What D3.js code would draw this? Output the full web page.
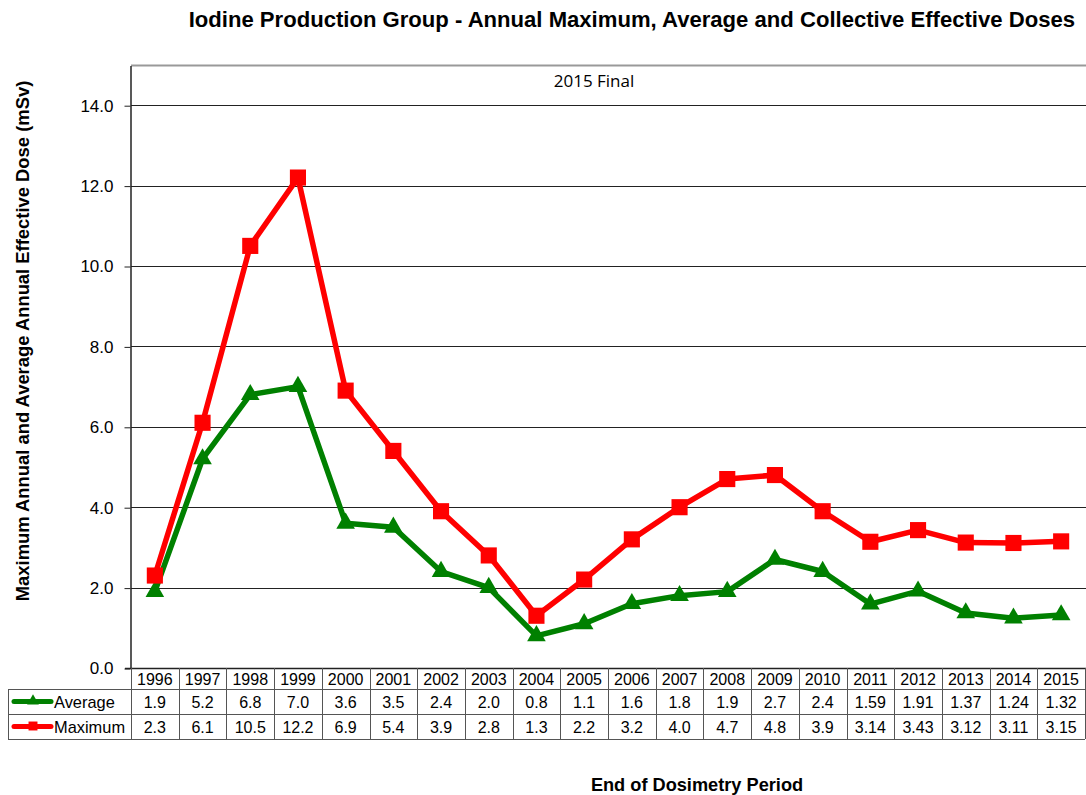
<!DOCTYPE html>
<html>
<head>
<meta charset="utf-8">
<script src="https://cdn.jsdelivr.net/npm/d3@7"></script>
<style>
  body { margin: 0; background: #fff; }
  text { font-family: "Liberation Sans", Arial, sans-serif; fill: #000; }
</style>
</head>
<body>
<div id="chart"></div>
<script>
const years = ["1996", "1997", "1998", "1999", "2000", "2001", "2002", "2003", "2004", "2005",
  "2006", "2007", "2008", "2009", "2010", "2011", "2012", "2013", "2014", "2015"];
const averageDose = [1.9, 5.2, 6.8, 7.0, 3.6, 3.5, 2.4, 2.0, 0.8, 1.1,
  1.6, 1.8, 1.9, 2.7, 2.4, 1.59, 1.91, 1.37, 1.24, 1.32];
const maximumDose = [2.3, 6.1, 10.5, 12.2, 6.9, 5.4, 3.9, 2.8, 1.3, 2.2,
  3.2, 4.0, 4.7, 4.8, 3.9, 3.14, 3.43, 3.12, 3.11, 3.15];
const averageLabels = ["1.9", "5.2", "6.8", "7.0", "3.6", "3.5", "2.4", "2.0", "0.8", "1.1",
  "1.6", "1.8", "1.9", "2.7", "2.4", "1.59", "1.91", "1.37", "1.24", "1.32"];
const maximumLabels = ["2.3", "6.1", "10.5", "12.2", "6.9", "5.4", "3.9", "2.8", "1.3", "2.2",
  "3.2", "4.0", "4.7", "4.8", "3.9", "3.14", "3.43", "3.12", "3.11", "3.15"];
const yTicks = [0, 2, 4, 6, 8, 10, 12, 14];

const series = [
  { name: "Average", values: averageDose, labels: averageLabels, color: "#008000", marker: "triangle" },
  { name: "Maximum", values: maximumDose, labels: maximumLabels, color: "#ff0000", marker: "square" }
];

const width = 1086, height = 795;
const plotLeft = 131, plotRight = 1085, plotTop = 65, plotBottom = 668;
const rowH = [21, 25, 25];

const svg = d3.select("#chart").append("svg")
  .attr("width", width)
  .attr("height", height);

const x = d3.scaleBand().domain(years).range([plotLeft, plotRight]);
const y = d3.scaleLinear().domain([0, 15]).range([plotBottom, plotTop]);

// title
svg.append("text")
  .attr("x", 1075).attr("y", 27)
  .attr("text-anchor", "end")
  .attr("font-size", 22.1).attr("font-weight", "bold")
  .text("Iodine Production Group - Annual Maximum, Average and Collective Effective Doses");

// grid
svg.append("g").selectAll("line")
  .data(yTicks.filter(d => d > 0))
  .join("line")
  .attr("x1", plotLeft).attr("x2", width)
  .attr("y1", d => Math.round(y(d)) + 0.5).attr("y2", d => Math.round(y(d)) + 0.5)
  .attr("stroke", "#222").attr("stroke-width", 1);

svg.append("line")
  .attr("x1", plotLeft).attr("x2", width)
  .attr("y1", plotTop + 0.5).attr("y2", plotTop + 0.5)
  .attr("stroke", "#999").attr("stroke-width", 2);

// y axis
const yAxis = svg.append("g")
  .attr("transform", `translate(${plotLeft - 0.5},0.5)`)
  .call(d3.axisLeft(y).tickValues(yTicks).tickFormat(d3.format(".1f")).tickSize(6).tickSizeOuter(0));
yAxis.select(".domain").attr("stroke", "#222").attr("stroke-width", 1.5);
yAxis.selectAll(".tick line").attr("stroke", "#222");
yAxis.selectAll(".tick text")
  .attr("x", -17)
  .attr("font-size", 17)
  .attr("font-family", "Liberation Sans, Arial, sans-serif")
  .attr("fill", "#000");

svg.append("line")
  .attr("x1", plotLeft - 6).attr("x2", width)
  .attr("y1", plotBottom + 0.5).attr("y2", plotBottom + 0.5)
  .attr("stroke", "#222").attr("stroke-width", 1.5);

svg.append("text")
  .attr("x", 594).attr("y", 87)
  .attr("text-anchor", "middle")
  .attr("font-size", 17)
  .style("font-family", "'Open Sans', sans-serif")
  .text("2015 Final");

// axis titles
svg.append("text")
  .attr("transform", `translate(29,341) rotate(-90)`)
  .attr("text-anchor", "middle")
  .attr("font-size", 18.4).attr("font-weight", "bold")
  .text("Maximum Annual and Average Annual Effective Dose (mSv)");

svg.append("text")
  .attr("x", 697).attr("y", 791)
  .attr("text-anchor", "middle")
  .attr("font-size", 18.2).attr("font-weight", "bold")
  .text("End of Dosimetry Period");

// lines and markers
const line = d3.line()
  .x((d, i) => x(years[i]) + x.bandwidth() / 2)
  .y(d => y(d));

const sym = {
  triangle: d3.symbol().type(d3.symbolTriangle).size(150),
  square: d3.symbol().type(d3.symbolSquare).size(260)
};

series.forEach(s => {
  const g = svg.append("g");
  g.append("path")
    .datum(s.values)
    .attr("d", line)
    .attr("fill", "none")
    .attr("stroke", s.color)
    .attr("stroke-width", 5.5)
    .attr("stroke-linejoin", "round");
  g.selectAll("path.m")
    .data(s.values)
    .join("path")
    .attr("class", "m")
    .attr("transform", (d, i) => `translate(${x(years[i]) + x.bandwidth() / 2},${y(d)})`)
    .attr("d", sym[s.marker]())
    .attr("fill", s.color);
});

// data table
const table = svg.append("g");
const rowTop = [plotBottom, plotBottom + rowH[0], plotBottom + rowH[0] + rowH[1]];
const tableBottom = plotBottom + rowH[0] + rowH[1] + rowH[2];
const border = "#555";

// horizontal lines
[rowTop[1], rowTop[2], tableBottom].forEach(yy => {
  table.append("line")
    .attr("x1", 8).attr("x2", plotRight)
    .attr("y1", yy + 0.5).attr("y2", yy + 0.5)
    .attr("stroke", border);
});
table.append("line")
  .attr("x1", 8.5).attr("x2", 8.5)
  .attr("y1", rowTop[1]).attr("y2", tableBottom)
  .attr("stroke", border);

// vertical lines
table.selectAll("line.v")
  .data(years)
  .join("line")
  .attr("class", "v")
  .attr("x1", d => Math.round(x(d)) + 0.5).attr("x2", d => Math.round(x(d)) + 0.5)
  .attr("y1", plotBottom).attr("y2", tableBottom)
  .attr("stroke", border);
table.append("line")
  .attr("x1", plotRight + 0.5).attr("x2", plotRight + 0.5)
  .attr("y1", plotBottom).attr("y2", tableBottom)
  .attr("stroke", border);

table.selectAll("text.yr")
  .data(years)
  .join("text")
  .attr("class", "yr")
  .attr("x", d => x(d) + x.bandwidth() / 2)
  .attr("y", rowTop[0] + 16.5)
  .attr("text-anchor", "middle")
  .attr("font-size", 16)
  .text(d => d);

series.forEach((s, k) => {
  const ry = rowTop[k + 1];
  table.selectAll("text.v" + k)
    .data(s.labels)
    .join("text")
    .attr("x", (d, i) => x(years[i]) + x.bandwidth() / 2)
    .attr("y", ry + 18.5)
    .attr("text-anchor", "middle")
    .attr("font-size", 16)
    .text(d => d);
  // legend key
  table.append("line")
    .attr("x1", 14).attr("x2", 51)
    .attr("y1", ry + 12.5).attr("y2", ry + 12.5)
    .attr("stroke", s.color).attr("stroke-width", 5)
    .attr("stroke-linecap", "round");
  table.append("path")
    .attr("transform", `translate(33,${ry + 12})`)
    .attr("d", d3.symbol().type(s.marker === "triangle" ? d3.symbolTriangle : d3.symbolSquare)
      .size(s.marker === "triangle" ? 60 : 80)())
    .attr("fill", s.color);
  table.append("text")
    .attr("x", 54).attr("y", ry + 18.5)
    .attr("font-size", 16.4)
    .text(s.name);
});
</script>
</body>
</html>
